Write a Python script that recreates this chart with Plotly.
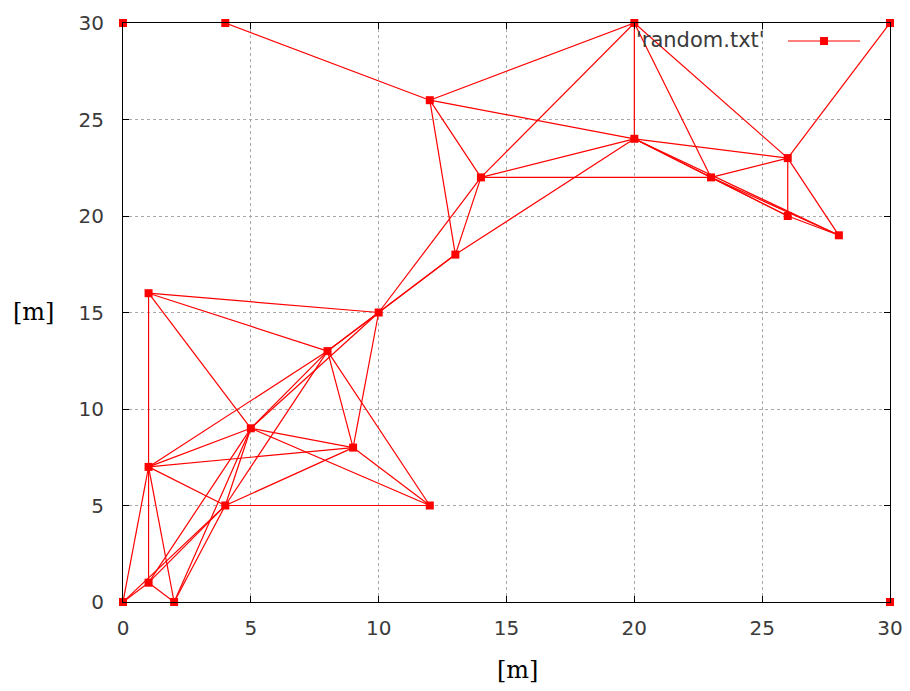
import plotly.graph_objects as go

# Node positions [m]
node_x = [0, 4, 12, 20, 30, 20, 26, 23, 14, 26, 28, 13, 1, 10, 8, 5, 9, 1, 4, 12, 1, 0, 2, 30]
node_y = [30, 30, 26, 30, 30, 24, 23, 22, 22, 20, 19, 18, 16, 15, 13, 9, 8, 7, 5, 5, 1, 0, 0, 0]

# Links between nodes (index pairs into node_x / node_y)
edges = [
    (1, 2), (2, 3), (2, 5), (2, 8), (2, 11),
    (3, 5), (3, 6), (3, 7), (3, 8), (4, 6),
    (5, 6), (5, 7), (5, 8), (5, 9), (5, 10), (5, 11),
    (6, 7), (6, 9), (6, 10), (7, 8), (7, 9), (7, 10),
    (8, 11), (8, 13), (9, 10), (11, 13), (11, 14),
    (12, 13), (12, 14), (12, 15), (12, 17),
    (13, 14), (13, 15), (13, 16),
    (14, 15), (14, 16), (14, 17), (14, 18), (14, 19),
    (15, 16), (15, 17), (15, 18), (15, 19), (15, 20), (15, 22),
    (16, 17), (16, 18), (16, 19),
    (17, 18), (17, 20), (17, 21), (17, 22),
    (18, 19), (18, 20), (18, 21), (18, 22),
    (20, 21), (20, 22),
]

tick_vals = [0, 5, 10, 15, 20, 25, 30]
tick_text = ["0", "5", "10", "15", "20", "25", "30"]
series_name = "'random.txt'"
axis_title = "[m]"

RED = "#ff0000"
INK = "#3a3a3a"
TICK_FONT = dict(family="DejaVu Sans", size=20, color=INK)

# Segments separated by None so each link is drawn on its own
seg_x, seg_y = [], []
for a, b in edges:
    seg_x += [node_x[a], node_x[b], None]
    seg_y += [node_y[a], node_y[b], None]

fig = go.Figure()
fig.add_trace(go.Scatter(
    x=seg_x, y=seg_y, mode="lines",
    line=dict(color=RED, width=1.2),
    hoverinfo="skip", showlegend=False, cliponaxis=False,
))
fig.add_trace(go.Scatter(
    x=node_x, y=node_y, mode="markers",
    marker=dict(symbol="square", size=8, color=RED, line=dict(width=0)),
    name=series_name, showlegend=False, cliponaxis=False,
))

axis_common = dict(
    range=[0, 30], tickvals=tick_vals, ticktext=tick_text,
    showline=True, linecolor="#000000", linewidth=1, mirror="ticks",
    ticks="inside", ticklen=6, tickcolor="#000000", tickwidth=1,
    showgrid=True, gridcolor="#a8a8a8", gridwidth=1, griddash="dot",
    zeroline=False, tickfont=TICK_FONT, layer="above traces",
)

fig.update_layout(
    width=910, height=691,
    margin=dict(l=123, r=20, t=23, b=89, autoexpand=False),
    paper_bgcolor="white", plot_bgcolor="white",
    xaxis=dict(**axis_common, ticklabelstandoff=8),
    yaxis=dict(**axis_common, ticklabelstandoff=14),
    showlegend=False,
)

# Axis titles
fig.add_annotation(text=axis_title, xref="paper", yref="paper", x=0.514, y=-0.118,
                   showarrow=False, xanchor="center", yanchor="middle",
                   font=dict(family="DejaVu Serif", size=24, color="#000000"))
fig.add_annotation(text=axis_title, xref="paper", yref="paper", x=-0.117, y=0.501,
                   showarrow=False, xanchor="center", yanchor="middle",
                   font=dict(family="DejaVu Serif", size=24, color="#000000"))

# Key: label followed by a line sample with a marker
fig.add_annotation(text=series_name, xref="paper", yref="paper", x=0.8396, y=0.9706,
                   showarrow=False, xanchor="right", yanchor="middle",
                   font=dict(family="DejaVu Sans", size=21, color=INK))
fig.add_shape(type="line", xref="paper", yref="paper",
              x0=0.867, x1=0.961, y0=0.9689, y1=0.9689,
              line=dict(color=RED, width=1.2))
fig.add_shape(type="rect", xref="paper", yref="paper",
              x0=0.914 - 0.0052, x1=0.914 + 0.0052,
              y0=0.9689 - 0.0069, y1=0.9689 + 0.0069,
              line=dict(width=0), fillcolor=RED)

fig.write_html("out.html")
